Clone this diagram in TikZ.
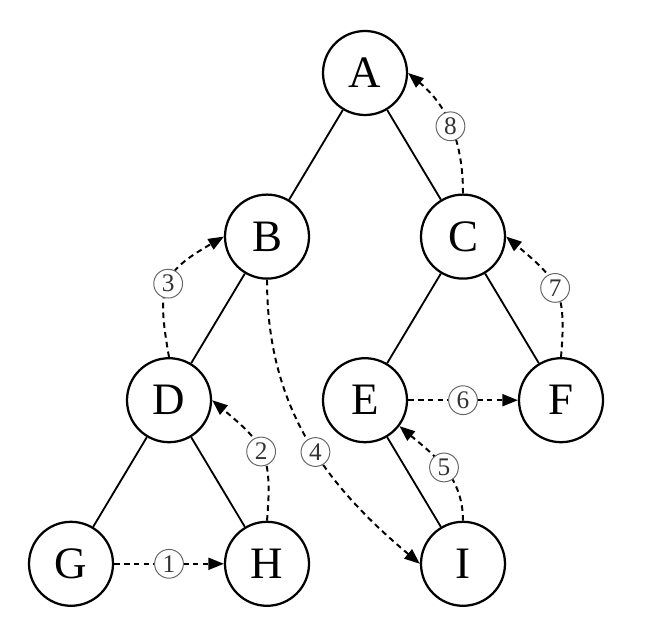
\documentclass[tikz,border=0pt]{standalone}
\usepackage{fontspec}
\setmainfont{Liberation Serif}
\usepackage{tikz}
\usetikzlibrary{arrows.meta,positioning}

\begin{document}
\begin{tikzpicture}[
  vertex/.style={draw, circle, line width=1.6pt, minimum size=2.1cm, inner sep=0pt, font=\fontsize{32}{36}\selectfont},
  edge/.style={line width=1.3pt},
  visit/.style={-{Triangle[length=11pt,width=8.5pt]}, dash pattern=on 4pt off 3pt, line width=1.4pt},
  seqno/.style={solid, circle, draw=black!60, line width=0.7pt, fill=white, inner sep=0pt, minimum size=0.72cm, text=black!80, font=\fontsize{18}{20}\selectfont},
  node distance=4.09cm and 2.45cm, on grid
]
  \useasboundingbox (0,0) rectangle (16.4,-15.6);

  \node[vertex] (A) at (9.125,-1.825) {A};
  \node[vertex, below left=of A] (B) {B};
  \node[vertex, below right=of A] (C) {C};
  \node[vertex, below left=of B] (D) {D};
  \node[vertex, below left=of C] (E) {E};
  \node[vertex, below right=of C] (F) {F};
  \node[vertex, below left=of D] (G) {G};
  \node[vertex, below right=of D] (H) {H};
  \node[vertex, below right=of E] (I) {I};

  % tree
  \draw[edge] (A) -- (B);
  \draw[edge] (A) -- (C);
  \draw[edge] (B) -- (D);
  \draw[edge] (C) -- (E);
  \draw[edge] (C) -- (F);
  \draw[edge] (D) -- (G);
  \draw[edge] (D) -- (H);
  \draw[edge] (E) -- (I);

  % visiting order
  \draw[visit] (G) -- node[seqno] {1} (H);
  \draw[visit] (H.north) to[out=85, in=-40, looseness=1.3] node[seqno] {2} (D.east);
  \draw[visit] (D.north) to[out=100, in=210, looseness=1.4] node[seqno] {3} (B.west);
  \draw[visit] (B.south) to[out=-90, in=140] node[seqno, pos=0.55] {4} (I.west);
  \draw[visit] (I.north) to[out=90, in=-40] node[seqno] {5} (E.-37);
  \draw[visit] (E) -- node[seqno] {6} (F);
  \draw[visit] (F.north) to[out=85, in=-40, looseness=1.3] node[seqno] {7} (C.east);
  \draw[visit] (C.north) to[out=90, in=-40] node[seqno] {8} (A.east);
\end{tikzpicture}
\end{document}
